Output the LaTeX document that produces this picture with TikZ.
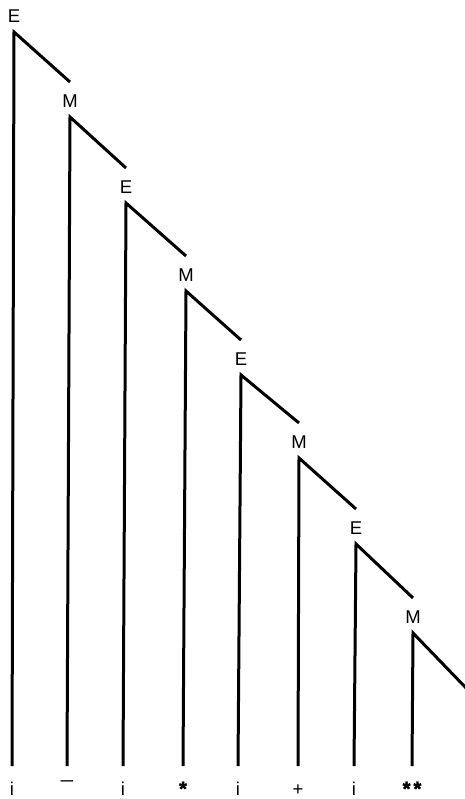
\documentclass[tikz,border=0pt]{standalone}
\usepackage{fontspec}
\setmainfont{Liberation Sans}
\newfontface\starfont[FakeBold=2]{Liberation Sans Bold}
\usetikzlibrary{positioning}

\newcommand{\heavystar}{{\starfont\fontsize{20}{20}\selectfont *}}

\begin{document}
\begin{tikzpicture}[x=1pt, y=-1pt, line width=3pt, line join=miter,
    nonterm/.style={inner sep=0pt, text height=24pt, text depth=8pt, anchor=south, font=\fontsize{18.5}{20}\selectfont},
    leaf/.style={inner sep=0pt, text height=28pt, text depth=0pt, anchor=north, font=\fontsize{18.5}{20}\selectfont}]
    \useasboundingbox (0,0) rectangle (464,799);

    % Nonterminals (node south = corner of the branch)
    \node[nonterm] (E1) at (14,32) {E};
    \node[nonterm] (M1) at (70,117) {M};
    \node[nonterm] (E2) at (126,203) {E};
    \node[nonterm] (M2) at (186,291) {M};
    \node[nonterm] (E3) at (241,375) {E};
    \node[nonterm] (M3) at (299,458) {M};
    \node[nonterm] (E4) at (356,544) {E};
    \node[nonterm] (M4) at (413,633) {M};
    \coordinate (rest) at (468,690);

    % Terminals
    \node[leaf] (leaf1) at (12,766) {i};
    \node[leaf] (leaf2) at (67,766) {\raisebox{8pt}{\scalebox{1.4}[1]{−}}};
    \node[leaf] (leaf3) at (123,766) {i};
    \node[leaf] (leaf4) at (183,766) {\heavystar};
    \node[leaf] (leaf5) at (238,766) {i};
    \node[leaf] (leaf6) at (298,766) {+};
    \node[leaf] (leaf7) at (354,766) {i};
    \node[leaf] (leaf8) at (412,766) {\heavystar\,\heavystar};

    % Branches
    \draw (leaf1.north) -- (E1.south) -- (M1.north);
    \draw (leaf2.north) -- (M1.south) -- (E2.north);
    \draw (leaf3.north) -- (E2.south) -- (M2.north);
    \draw (leaf4.north) -- (M2.south) -- (E3.north);
    \draw (leaf5.north) -- (E3.south) -- (M3.north);
    \draw (leaf6.north) -- (M3.south) -- (E4.north);
    \draw (leaf7.north) -- (E4.south) -- (M4.north);
    \draw (leaf8.north) -- (M4.south) -- (rest);
\end{tikzpicture}
\end{document}
